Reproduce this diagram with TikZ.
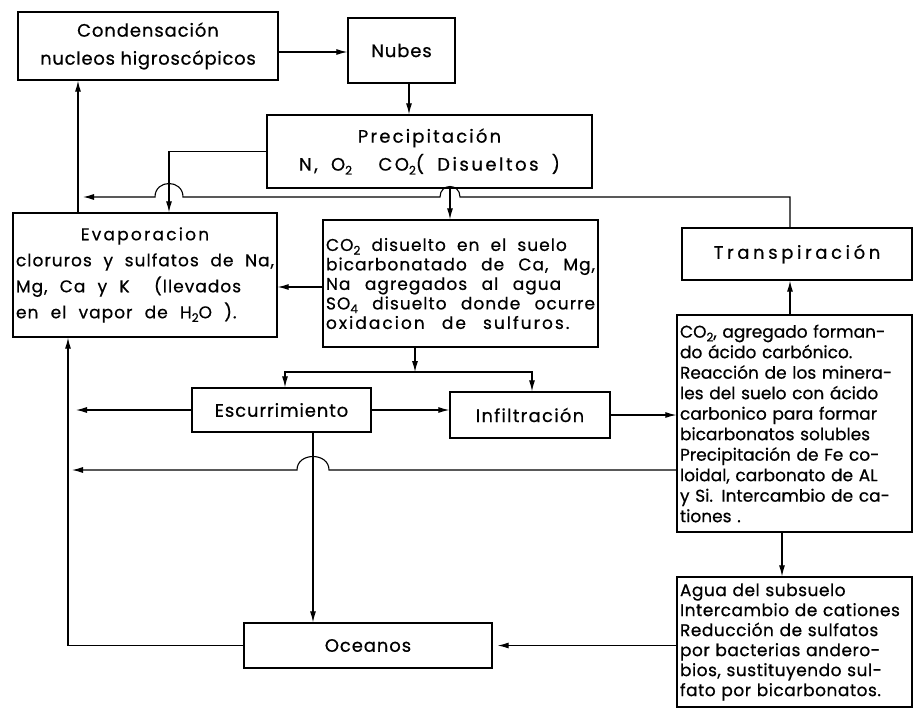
\documentclass[tikz,border=0pt]{standalone}
\usepackage{fontspec}
\setmainfont{Poppins}[FakeBold=0.6]
\usetikzlibrary{arrows.meta}
\newcommand\lsub[1]{\raisebox{-0.4ex}{\fontsize{12}{12}\selectfont #1}}
\newcommand\lsp[1]{\addfontfeatures{LetterSpace=#1}}
\newcommand\lws[2]{\addfontfeatures{LetterSpace=#1}\spaceskip=#2\fontdimen2\font plus 0.5em\relax}
\newcommand\fullline[1]{\makebox[\linewidth][s]{#1}}
\begin{document}
\begin{tikzpicture}[x=1pt,y=-1pt,
  box/.style={draw, line width=1.3pt, inner sep=3pt, rectangle},
  ln/.style={line width=1.1pt},
  arr/.style={line width=1.1pt, -{Latex[length=11pt,width=6pt]}},
  arrs/.style={line width=1.1pt, {Latex[length=11pt,width=6pt]}-{Latex[length=11pt,width=6pt]}},
  title/.style={font=\fontsize{18}{28}\selectfont, align=center},
  body/.style={font=\fontsize{17}{20.5}\selectfont, align=left}]
\useasboundingbox (0,0) rectangle (917,716);
\fill[white] (0,0) rectangle (917,716);

% boxes
\node[box, title, minimum width=260pt, minimum height=68pt] (cond) at (148,46) {{\lsp{5}Condensación}\\{\lsp{4}nucleos higroscópicos}};
\node[box, title, minimum width=107pt, minimum height=65pt] (nubes) at (401.5,50.5) {\lsp{5}Nubes};
\node[box, title, minimum width=325pt, minimum height=73pt] (precip) at (429.5,151.5) {{\lsp{12}Precipitación}\\{\lws{14}{1.8}N, O\lsub{2}\ \ CO\lsub{2}( Disueltos )}};
\node[box, font=\fontsize{17}{26}\selectfont, align=left, text width=258pt, minimum height=124pt] (evap) at (145,275) {\makebox[\linewidth]{\lsp{13}Evaporacion}\\{\lws{6}{1.8}\fullline{cloruros y sulfatos de Na,}}\\{\lws{6}{2.2}Mg, Ca y K\ \ (llevados}\\{\lws{6}{2.2}en el vapor de H\lsub{2}O ).}};
\node[box, font=\fontsize{17}{19.5}\selectfont, align=left, text width=269pt, minimum height=127pt] (co2) at (460.5,283.5) {{\lws{6}{2}CO\lsub{2} disuelto en el suelo}\\{\lws{6}{2}\fullline{bicarbonatado de Ca, Mg,}}\\{\lws{6}{2.6}Na agregados al agua}\\{\lws{6}{2}\fullline{SO\lsub{4} disuelto donde ocurre}}\\{\lws{12}{2.6}oxidacion de sulfuros.}};
\node[box, title, minimum width=230pt, minimum height=52pt] (transp) at (797,254) {\lsp{20}Transpiración};
\node[box, body, text width=229pt, minimum height=217pt] (react) at (794.5,423.5) {CO\lsub{2}, agregado forman-\\do ácido carbónico.\\Reacción de los minera-\\les del suelo con ácido\\carbonico para formar\\bicarbonatos solubles\\Precipitación de Fe co-\\loidal, carbonato de AL\\y Si. Intercambio de ca-\\tiones .};
\node[box, title, minimum width=179pt, minimum height=44pt] (escur) at (281.5,410) {\lsp{5}Escurrimiento};
\node[box, title, minimum width=160pt, minimum height=46pt] (infil) at (530,415) {\lsp{7}Infiltración};
\node[box, title, minimum width=248pt, minimum height=45pt] (ocean) at (368,645.5) {\lsp{5}Oceanos};
\node[box, body, font=\fontsize{17}{20}\selectfont, text width=229pt, minimum height=130pt] (agua) at (794.5,642) {{\lsp{3}Agua del subsuelo}\\{\lsp{3}Intercambio de cationes}\\{\lsp{3}Reducción de sulfatos}\\{\lsp{3}por bacterias andero-}\\{\lsp{3}bios, sustituyendo sul-}\\{\lsp{3}fato por bicarbonatos.}};

% helper coordinates
\coordinate (xR) at (78,0);
\coordinate (xL) at (68,0);
\coordinate (xE) at (169,0);
\coordinate (xPC) at (450,0);
\coordinate (xT) at (790,0);
\coordinate (xNP) at (409,0);
\coordinate (yCN) at (0,52);
\coordinate (yH) at (0,197);
\coordinate (xB) at (415,0);
\coordinate (yB) at (0,372);
\coordinate (xBl) at (285,0);
\coordinate (xBr) at (532,0);
\coordinate (yCE) at (0,287);
\coordinate (yLow) at (0,470);
\coordinate (xO) at (313,0);
\coordinate (xRA) at (782,0);
\coordinate (h2r) at (460,197);
\coordinate (h2l) at (440,197);
\coordinate (h1r) at (183,197);
\coordinate (h1l) at (155,197);
\coordinate (h3r) at (329,470);
\coordinate (h3l) at (297,470);

% connectors
\draw[arr] (cond.east |- yCN) -- (nubes.west |- yCN);
\draw[arr] (nubes.south -| xNP) -- (precip.north -| xNP);
\draw[arr] (precip.west) -- (precip.west -| xE) -- (evap.north -| xE);
\draw[arr] (precip.south -| xPC) -- (co2.north -| xPC);
\draw[arr] (evap.north -| xR) -- (cond.south -| xR);
\draw[arr, shorten >=5pt] (transp.north -| xT) -- (xT |- yH) -- (h2r) .. controls +(0,-14) and +(0,-14) .. (h2l) -- (h1r) .. controls +(0,-18) and +(0,-18) .. (h1l) -- (xR |- yH);
\draw[arr] (co2.west |- yCE) -- (evap.east |- yCE);
\draw[arr] (co2.south -| xB) -- (xB |- yB);
\draw[arrs] (escur.north -| xBl) -- (xBl |- yB) -- (xBr |- yB) -- (infil.north -| xBr);
\draw[arr] (escur.east) -- (escur.east -| infil.west);
\draw[arr] (infil.east) -- (infil.east -| react.west);
\draw[arr] (react.north -| xT) -- (transp.south -| xT);
\draw[arr] (react.south -| xRA) -- (agua.north -| xRA);
\draw[arr, shorten >=8pt] (escur.west) -- (escur.west -| xL);
\draw[arr, shorten >=4pt] (react.west |- yLow) -- (h3r) .. controls +(0,-18) and +(0,-18) .. (h3l) -- (xL |- yLow);
\draw[arr] (escur.south -| xO) -- (ocean.north -| xO);
\draw[arr] (ocean.west) -- (ocean.west -| xL) -- (evap.south -| xL);
\draw[arr, shorten >=5pt] (agua.west |- ocean.east) -- (ocean.east);
\end{tikzpicture}
\end{document}
